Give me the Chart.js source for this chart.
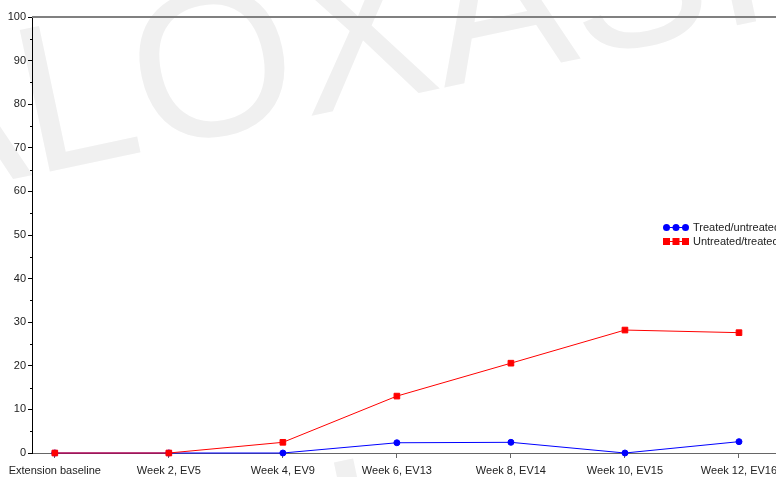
<!DOCTYPE html>
<html>
<head>
<meta charset="utf-8">
<script src="https://cdn.jsdelivr.net/npm/chart.js@4.4.1/dist/chart.umd.min.js"></script>
<style>
  html, body { margin: 0; padding: 0; background: #fff; overflow: hidden; }
  #wrap { width: 776px; height: 477px; overflow: hidden; }
  canvas { display: block; }
</style>
</head>
<body>
<div id="wrap"><canvas id="chart" width="860" height="477"></canvas></div>
<script>
const categories = ['Extension baseline', 'Week 2, EV5', 'Week 4, EV9', 'Week 6, EV13', 'Week 8, EV14', 'Week 10, EV15', 'Week 12, EV16'];
const treatedUntreated = [0, 0, 0, 2.35, 2.45, 0, 2.6];
const untreatedTreated = [0, 0, 2.45, 13.05, 20.6, 28.2, 27.6];
const seriesNames = ['Treated/untreated', 'Untreated/treated'];
const yTicks = [0, 10, 20, 30, 40, 50, 60, 70, 80, 90, 100];
const yMinorTicks = [5, 15, 25, 35, 45, 55, 65, 75, 85, 95];
const markText = 'ALOXASI';

const FONT = '"Liberation Sans", Arial, sans-serif';
const BLUE = '#0000ff';
const RED = '#ff0000';

function toPoints(values) {
  return values.map((v, i) => ({x: i, y: v}));
}

// faint diagonal lettering behind the plot
const backdrop = {
  id: 'backdrop',
  beforeDraw(chart) {
    const ctx = chart.ctx;
    const rows = [[markText, -104, 204], [markText.slice(-1), 345, 608]];
    ctx.save();
    ctx.font = '210px ' + FONT;
    ctx.fillStyle = '#f0f0f0';
    ctx.textBaseline = 'alphabetic';
    for (const [text, x, y] of rows) {
      ctx.save();
      ctx.translate(x, y);
      ctx.rotate(-12 * Math.PI / 180);
      ctx.fillText(text, 0, 0);
      ctx.restore();
    }
    ctx.restore();
  }
};

// top frame line, minor y ticks and the legend box
const extras = {
  id: 'extras',
  afterDraw(chart) {
    const ctx = chart.ctx;
    const area = chart.chartArea;
    const yScale = chart.scales.y;
    ctx.save();

    ctx.strokeStyle = '#808080';
    ctx.lineWidth = 2;
    ctx.beginPath();
    ctx.moveTo(area.left, area.top);
    ctx.lineTo(chart.width, area.top);
    ctx.stroke();

    ctx.strokeStyle = '#000';
    ctx.lineWidth = 1;
    for (const v of yMinorTicks) {
      const py = Math.round(yScale.getPixelForValue(v)) + 0.5;
      ctx.beginPath();
      ctx.moveTo(area.left - 2, py);
      ctx.lineTo(area.left, py);
      ctx.stroke();
    }

    // legend
    const lx = 664, ly = 227, rowGap = 14;
    chart.data.datasets.forEach((ds, i) => {
      const y = ly + i * rowGap;
      ctx.strokeStyle = ds.borderColor;
      ctx.fillStyle = ds.borderColor;
      ctx.lineWidth = 1;
      ctx.beginPath();
      ctx.moveTo(lx, y + 0.5);
      ctx.lineTo(lx + 24, y + 0.5);
      ctx.stroke();
      for (let k = 0; k < 3; k++) {
        const cx = lx + 2.5 + k * 9.5;
        if (ds.pointStyle === 'rect') {
          ctx.fillRect(cx - 3.5, y - 3, 7, 7);
        } else {
          ctx.beginPath();
          ctx.arc(cx, y + 0.5, 3.5, 0, Math.PI * 2);
          ctx.fill();
        }
      }
      ctx.fillStyle = '#222';
      ctx.font = '11px ' + FONT;
      ctx.textBaseline = 'middle';
      ctx.textAlign = 'left';
      ctx.fillText(ds.label, lx + 29, y + 1);
    });
    ctx.restore();
  }
};

new Chart(document.getElementById('chart'), {
  type: 'line',
  data: {
    datasets: [
      {
        label: seriesNames[0],
        data: toPoints(treatedUntreated),
        borderColor: BLUE,
        backgroundColor: BLUE,
        pointBackgroundColor: BLUE,
        pointBorderColor: BLUE,
        pointStyle: 'circle',
        pointRadius: 3,
        pointBorderWidth: 1,
        borderWidth: 1,
        tension: 0,
        clip: false,
        order: 1
      },
      {
        label: seriesNames[1],
        data: toPoints(untreatedTreated),
        borderColor: RED,
        backgroundColor: RED,
        pointBackgroundColor: RED,
        pointBorderColor: RED,
        pointStyle: 'rect',
        pointRadius: 4,
        pointBorderWidth: 1,
        borderWidth: 1,
        tension: 0,
        clip: false,
        order: 0
      }
    ]
  },
  options: {
    responsive: false,
    animation: false,
    events: [],
    layout: { padding: { top: 17, right: 7, left: 0, bottom: 0 } },
    plugins: {
      legend: { display: false },
      tooltip: { enabled: false },
      title: { display: false }
    },
    scales: {
      x: {
        type: 'linear',
        min: -0.2,
        max: 7.0,
        afterFit(scale) { scale.height = 24; },
        afterBuildTicks(scale) {
          scale.ticks = categories.map((c, i) => ({value: i}));
        },
        grid: {
          drawOnChartArea: false,
          drawTicks: true,
          tickLength: 5,
          tickColor: '#666',
          tickWidth: 1
        },
        border: { display: true, color: '#666', width: 1 },
        ticks: {
          autoSkip: false,
          maxRotation: 0,
          padding: 6,
          color: '#222',
          font: { family: FONT, size: 11 },
          callback: (v) => categories[v] ?? ''
        }
      },
      y: {
        min: 0,
        max: 100,
        afterFit(scale) { scale.width = 32; },
        afterBuildTicks(scale) {
          scale.ticks = yTicks.map(v => ({value: v}));
        },
        grid: {
          drawOnChartArea: false,
          drawTicks: true,
          tickLength: 4,
          tickColor: '#000',
          tickWidth: 1
        },
        border: { display: true, color: '#000', width: 1 },
        ticks: {
          padding: 2,
          color: '#222',
          font: { family: FONT, size: 11 }
        }
      }
    }
  },
  plugins: [backdrop, extras]
});
</script>
</body>
</html>
